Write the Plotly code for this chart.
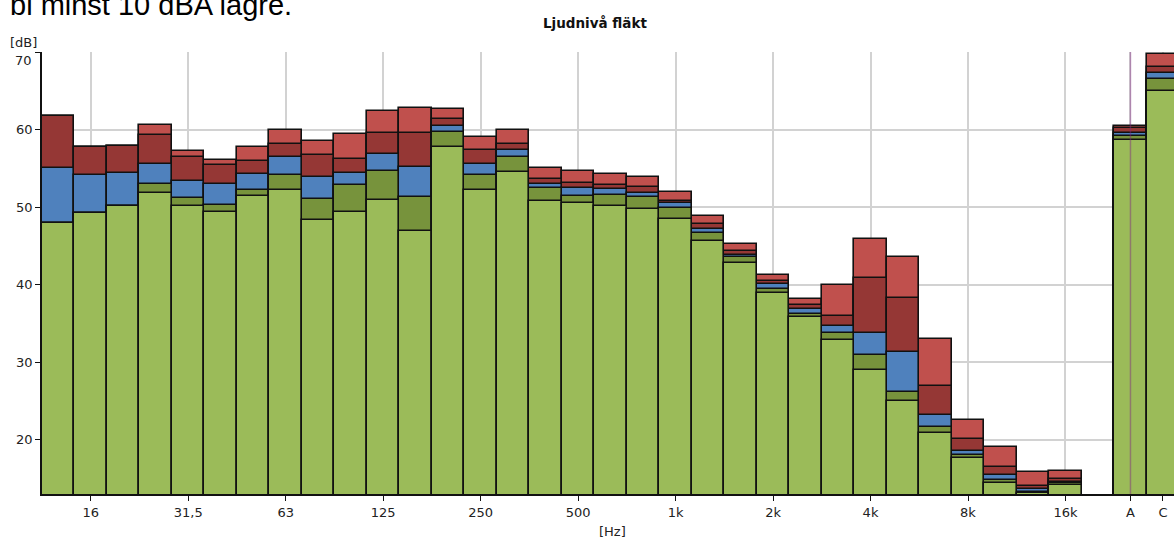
import plotly.graph_objects as go

# Third-octave bands, then a gap, then the A and C totals
bands = ["12,5", "16", "20", "25", "31,5", "40", "50", "63", "80", "100", "125", "160",
         "200", "250", "315", "400", "500", "630", "800", "1k", "1,25k", "1,6k", "2k",
         "2,5k", "3,15k", "4k", "5k", "6,3k", "8k", "10k", "12,5k", "16k", " ", "A", "C"]

tick_cats = ["16", "31,5", "63", "125", "250", "500", "1k", "2k", "4k", "8k", "16k", "A", "C"]
y_ticks = [20, 30, 40, 50, 60, 70]

# five measurement series (dB), drawn from back (highest) to front (lowest)
light_red = [61.7, 57.8, 57.9, 60.6, 57.2, 56.1, 57.8, 60.0, 58.5, 59.4, 62.4, 62.8,
             62.6, 59.1, 60.0, 55.1, 54.7, 54.3, 53.9, 52.0, 48.9, 45.3, 41.2,
             38.1, 40.0, 45.9, 43.5, 33.0, 22.6, 19.1, 15.9, 16.0, None, 60.5, 69.7]
dark_red = [61.7, 57.8, 57.9, 59.3, 56.4, 55.4, 56.0, 58.1, 56.7, 56.2, 59.5, 59.6,
            61.4, 57.3, 58.2, 53.6, 53.1, 52.9, 52.6, 50.8, 47.8, 44.3, 40.5,
            37.4, 35.9, 40.8, 38.3, 26.9, 20.1, 16.5, 14.0, 14.9, None, 60.2, 68.1]
blue = [55.0, 54.2, 54.4, 55.5, 53.4, 53.0, 54.3, 56.5, 53.9, 54.4, 56.9, 55.2,
        60.5, 55.6, 57.4, 53.0, 52.4, 52.3, 51.8, 50.5, 47.2, 43.8, 40.1,
        36.9, 34.7, 33.8, 31.3, 23.2, 18.6, 15.4, 13.6, 14.6, None, 59.6, 67.3]
dark_green = [48.0, 49.2, 50.1, 53.0, 51.2, 50.3, 52.2, 54.1, 51.0, 52.8, 54.6, 51.3,
              59.7, 54.2, 56.5, 52.4, 51.4, 51.6, 51.3, 49.9, 46.7, 43.5, 39.5,
              36.2, 33.8, 30.9, 26.1, 21.6, 18.0, 14.8, 13.3, 14.4, None, 59.2, 66.5]
green = [48.0, 49.2, 50.1, 51.8, 50.1, 49.4, 51.4, 52.2, 48.3, 49.4, 50.9, 46.9,
         57.8, 52.2, 54.5, 50.8, 50.5, 50.2, 49.8, 48.4, 45.6, 42.8, 38.9,
         35.8, 32.8, 29.0, 25.0, 20.9, 17.6, 14.4, 13.1, 14.1, None, 58.6, 65.0]

series = [
    ("s5", light_red, "#C0504D"),
    ("s4", dark_red, "#953735"),
    ("s3", blue, "#4F81BD"),
    ("s2", dark_green, "#77933C"),
    ("s1", green, "#9BBB59"),
]

fig = go.Figure()
for name, vals, col in series:
    fig.add_trace(go.Bar(
        x=bands, y=vals, name=name, width=1.0,
        marker=dict(color=col, line=dict(color="#111111", width=1.6)),
        showlegend=False, hoverinfo="skip",
    ))

font_main = "DejaVu Sans"
L, T, B = 42, 52, 46
PW, PH = 1174 - L, 540 - T - B


def px(x):
    return (x - L) / PW


def py(y):
    return (540 - B - y) / PH


# top tick label is nudged down inside the chart, as in the original
y_ticktext = [str(v) if v != y_ticks[-1] else "" for v in y_ticks]

fig.update_layout(
    width=1174, height=540,
    margin=dict(l=L, r=0, t=T, b=B, autoexpand=False),
    barmode="overlay",
    bargap=0,
    plot_bgcolor="white",
    paper_bgcolor="white",
    font=dict(family=font_main, size=13, color="#222222"),
    xaxis=dict(
        type="category",
        categoryorder="array", categoryarray=bands,
        range=[-0.5, 34.34],
        tickmode="array", tickvals=tick_cats, ticktext=tick_cats,
        showgrid=True, gridcolor="#d2d2d2", gridwidth=1.5,
        showline=True, linecolor="#111111", linewidth=2,
        ticks="outside", ticklen=5, tickcolor="#111111",
        tickfont=dict(family=font_main, size=13, color="#222222"),
        zeroline=False, automargin=False,
    ),
    yaxis=dict(
        range=[13, 70],
        tickmode="array", tickvals=y_ticks, ticktext=y_ticktext,
        showgrid=True, gridcolor="#d2d2d2", gridwidth=1.5,
        showline=True, linecolor="#111111", linewidth=1.5,
        ticks="outside", ticklen=5, tickcolor="#111111",
        tickfont=dict(family=font_main, size=13, color="#222222"),
        zeroline=False, automargin=False,
    ),
    shapes=[dict(type="line", xref="x", yref="paper", x0=33, x1=33, y0=0, y1=1,
                 line=dict(color="rgba(128,40,128,0.45)", width=1.5), layer="above")],
    annotations=[
        dict(text="<b>Ljudnivå fläkt</b>", xref="paper", yref="paper",
             x=px(595), y=py(23), xanchor="center", yanchor="middle",
             showarrow=False, font=dict(family=font_main, size=13.5, color="#111111")),
        dict(text="[dB]", xref="paper", yref="paper",
             x=px(8), y=py(42), xanchor="left", yanchor="middle",
             showarrow=False, font=dict(family=font_main, size=13, color="#222222")),
        dict(text=str(y_ticks[-1]), xref="paper", yref="paper",
             x=px(34), y=py(60), xanchor="right", yanchor="middle",
             showarrow=False, font=dict(family=font_main, size=13, color="#222222")),
        dict(text="[Hz]", xref="paper", yref="paper",
             x=px(612), y=py(531), xanchor="center", yanchor="middle",
             showarrow=False, font=dict(family=font_main, size=13, color="#222222")),
        dict(text="bl minst 10 dBA lägre.", xref="paper", yref="paper",
             x=px(8), y=py(5), xanchor="left", yanchor="middle",
             showarrow=False, font=dict(family="Liberation Sans", size=29, color="#000000")),
    ],
)

fig.write_html("out.html", config={"displayModeBar": False},
               post_script="document.body.style.margin='0';document.body.style.overflow='hidden';")
